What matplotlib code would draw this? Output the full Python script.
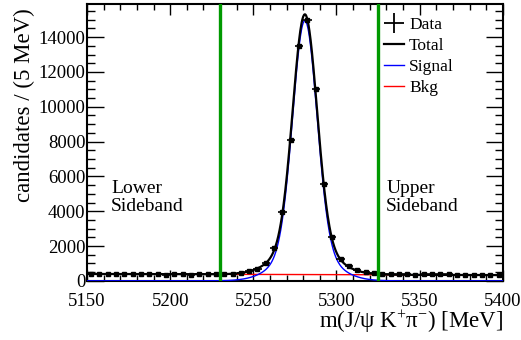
"""B0 -> J/psi K+ pi- invariant mass fit with sideband boundaries."""
import matplotlib
matplotlib.use("Agg")
import matplotlib.pyplot as plt
import numpy as np
from matplotlib.lines import Line2D
from matplotlib.ticker import MultipleLocator

# 5 MeV bins, 5150-5400 MeV
bin_centers = np.arange(5152.5, 5400, 5.0)
counts = np.array([
    400, 380, 390, 420, 380, 365, 370, 390, 380, 360,
    375, 380, 360, 390, 375, 395, 405, 420, 470, 560,
    690, 1010, 1870, 3980, 8080, 13500, 15000, 11030, 5580, 2530,
    1260, 860, 620, 500, 440, 410, 390, 380, 370, 360,
    365, 365, 370, 385, 360, 345, 340, 325, 330, 315,
])

# fit result: double gaussian signal + linear background (counts per 5 MeV)
sig_mean = 5281.0
sig_sigma1 = 7.2
sig_amp1 = 13100.0
sig_sigma2 = 15.5
sig_amp2 = 1850.0
bkg_lo = 395.0   # at 5150
bkg_hi = 330.0   # at 5400

sideband_lo = 5230.0
sideband_hi = 5325.0

plt.rcParams.update({
    "font.family": ["Liberation Serif", "DejaVu Serif"],
    "mathtext.fontset": "custom",
    "mathtext.rm": "Liberation Serif",
    "mathtext.it": "Liberation Serif:italic",
    "font.size": 13.5,
})

fig = plt.figure(figsize=(5.21, 3.40), dpi=100)
ax = fig.add_axes([0.167, 0.174, 0.798, 0.814])

m = np.linspace(5150, 5400, 1001)
sig = (sig_amp1 * np.exp(-0.5 * ((m - sig_mean) / sig_sigma1) ** 2)
       + sig_amp2 * np.exp(-0.5 * ((m - sig_mean) / sig_sigma2) ** 2))
bkg = bkg_lo + (bkg_hi - bkg_lo) * (m - 5150) / 250.0
total = sig + bkg

h_bkg, = ax.plot(m, bkg, color="#ff0000", lw=1.0, zorder=2)
h_sig, = ax.plot(m, sig, color="#0000ff", lw=1.0, zorder=3)
h_tot, = ax.plot(m, total, color="black", lw=1.6, zorder=4)
ax.errorbar(bin_centers, counts, xerr=2.5, yerr=np.sqrt(counts),
            fmt="s", ms=2.2, color="black", ecolor="black", elinewidth=1.2,
            capsize=0, zorder=5)
h_data = Line2D([], [], color="black", marker="+", ms=15, mew=1.3, lw=0)

for xv in (sideband_lo, sideband_hi):
    ax.axvline(xv, color="#009900", lw=2.4, zorder=6)

ax.text(5164.4, 3770, "Lower\nSideband", fontsize=14, va="bottom", ha="left",
        linespacing=1.1)
ax.text(5329.9, 3770, "Upper\nSideband", fontsize=14, va="bottom", ha="left",
        linespacing=1.1)

ax.set_xlim(5150, 5400)
ax.set_ylim(0, 15900)
ax.xaxis.set_major_locator(MultipleLocator(50))
ax.xaxis.set_minor_locator(MultipleLocator(10))
ax.yaxis.set_major_locator(MultipleLocator(2000))
ax.yaxis.set_minor_locator(MultipleLocator(500))
ax.tick_params(which="both", direction="in", top=True, right=True,
               labelsize=13.5, width=1.0)
ax.tick_params(axis="y", which="major", length=12, pad=1)
ax.tick_params(axis="y", which="minor", length=6)
ax.tick_params(axis="x", which="major", length=8, pad=9)
ax.tick_params(axis="x", which="minor", length=4)
for sp in ax.spines.values():
    sp.set_linewidth(1.5)

ax.set_ylabel("candidates / (5 MeV)", fontsize=16.5, loc="top")
ax.yaxis.set_label_coords(-0.124, 0.985)
ax.set_xlabel(r"m(J/ψ K$^{+}$π$^{-}$) [MeV]", fontsize=16.5, loc="right",
              labelpad=-1)

ax.legend([h_data, h_tot, h_sig, h_bkg], ["Data", "Total", "Signal", "Bkg"],
          loc="upper left", bbox_to_anchor=(0.683, 1.0), frameon=False,
          fontsize=12.5, handlelength=1.15, handletextpad=0.3,
          labelspacing=0.27, borderaxespad=0.35)

fig.savefig("out.png", dpi=100)
